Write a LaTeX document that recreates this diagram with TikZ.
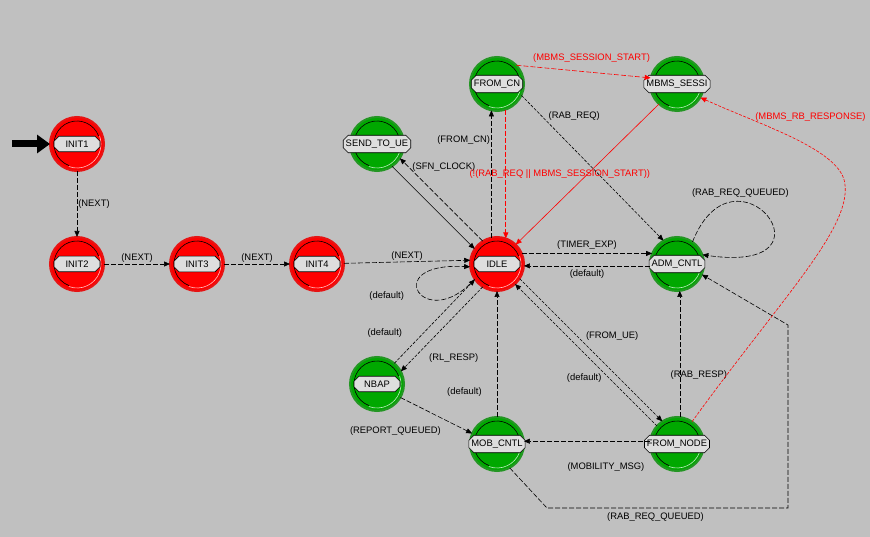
\documentclass[tikz,border=0pt]{standalone}
\usepackage{fontspec}
\setmainfont{Liberation Sans}
\usetikzlibrary{positioning, shapes.misc, arrows.meta}

\definecolor{bgray}{RGB}{192,192,192}
\definecolor{stred}{RGB}{255,0,0}
\definecolor{stredring}{RGB}{230,20,20}
\definecolor{stgreen}{RGB}{0,168,0}
\definecolor{stgreenring}{RGB}{36,150,36}
\definecolor{tagfill}{RGB}{222,222,222}
\definecolor{trred}{RGB}{255,0,0}

\begin{document}
\begin{tikzpicture}[x=1pt, y=-1pt, font=\fontsize{9.4}{10}\selectfont,
    >={Triangle[length=6pt, width=5pt]},
    st/.style={circle, on grid, minimum size=54pt, inner sep=0pt, outer sep=0pt, line width=2pt,
      path picture={
        \draw[black, line width=0.6pt] (path picture bounding box.center) ++(20:23pt) arc[start angle=20, end angle=250, radius=23pt];
        \draw[white, opacity=0.75, line width=0.6pt] (path picture bounding box.center) ++(250:24pt) arc[start angle=250, end angle=380, radius=24pt];
      }},
    tagbox/.style={chamfered rectangle, chamfered rectangle xsep=1.5pt, draw=black, fill=tagfill,
      line width=0.6pt, minimum width=46pt, minimum height=13pt, inner xsep=1pt, inner ysep=1pt},
    redst/.style={st, fill=stred, draw=stredring, label={[tagbox]center:#1}},
    greenst/.style={st, fill=stgreen, draw=stgreenring, label={[tagbox]center:#1}},
    cnd/.style={->, line width=0.6pt, dash pattern=on 5pt off 2pt},
    fine/.style={->, line width=0.6pt, dash pattern=on 3pt off 1.5pt},
    frc/.style={->, line width=0.6pt},
    lbl/.style={inner sep=1pt}]

    \path[use as bounding box, fill=bgray] (0,0) rectangle (870,537);

    % states
    \node[redst=INIT1] (init1) at (77,144) {};
    \node[redst=INIT2, below=120pt of init1] (init2) {};
    \node[redst=INIT3, right=120pt of init2] (init3) {};
    \node[redst=INIT4, right=120pt of init3] (init4) {};
    \node[redst=IDLE, right=180pt of init4] (idle) {};
    \node[greenst=FROM\_CN, above=180pt of idle] (fromcn) {};
    \node[greenst=SEND\_TO\_UE, above left=120pt and 120pt of idle] (sendue) {};
    \node[greenst=MBMS\_SESSI, right=180pt of fromcn] (mbms) {};
    \node[greenst=ADM\_CNTL, right=180pt of idle] (adm) {};
    \node[greenst=NBAP, below left=120pt and 120pt of idle] (nbap) {};
    \node[greenst=MOB\_CNTL, below=180pt of idle] (mobcntl) {};
    \node[greenst=FROM\_NODE, right=180pt of mobcntl] (fromnode) {};
    \coordinate[on grid, left=65pt of init1] (entry);

    % initial state marker
    \draw[line width=7pt, -{Triangle[length=13pt, width=18pt]}] (entry) -- (init1.west);

    % start-up chain
    \draw[cnd] (init1) -- node[lbl, right] {(NEXT)} (init2);
    \draw[cnd] (init2) -- node[lbl, above] {(NEXT)} (init3);
    \draw[cnd] (init3) -- node[lbl, above] {(NEXT)} (init4);
    \draw[cnd] (init4) -- node[lbl, above] {(NEXT)} (idle.172);
    \draw[cnd] (idle.214) .. controls (425,335) and (378,262) .. (idle.186)
        node[lbl, pos=0.5, anchor=east, xshift=-14pt, yshift=-4pt] {(default)};

    % idle transitions
    \draw[frc] (sendue.-56) -- (idle.146);
    \draw[cnd] (idle.122) -- node[lbl, pos=0.9, anchor=west, xshift=3pt] {(SFN\_CLOCK)} (sendue.-32);
    \draw[cnd] (idle.102) -- node[lbl, pos=0.77, left] {(FROM\_CN)} (fromcn.258);
    \draw[cnd, trred] (fromcn.289) -- node[lbl, pos=0.5, xshift=54pt] {(!(RAB\_REQ || MBMS\_SESSION\_START))} (idle.71);
    \draw[cnd, trred] (fromcn.44) -- node[lbl, above=8pt, xshift=8pt] {(MBMS\_SESSION\_START)} (mbms.167);
    \draw[frc, trred] (mbms.228) -- (idle.46);
    \draw[fine] (fromcn.-25) -- node[lbl, pos=0.14, anchor=west, xshift=6pt] {(RAB\_REQ)} (adm.120);
    \draw[cnd] (idle.23) -- node[lbl, above=3pt] {(TIMER\_EXP)} (adm.157);
    \draw[cnd] (adm.184) -- node[lbl, below=3pt] {(default)} (idle.-4);
    \draw[cnd] (adm.55) .. controls (735,135) and (845,275) .. (adm.20)
        node[lbl, pos=0.3, above=3pt] {(RAB\_REQ\_QUEUED)};

    % lower half
    \draw[cnd] (fromnode.84) -- node[lbl, pos=0.33, xshift=19pt] {(RAB\_RESP)} (adm.-84);
    \draw[fine, trred] (fromnode.56) .. controls (780,300) and (850,230) .. (845,185)
        .. controls (843,150) and (760,125) .. (mbms.-30)
        node[lbl, pos=0.4, above=24pt] {(MBMS\_RB\_RESPONSE)};
    \draw[cnd] (mobcntl.-62) -- (547,508) -- node[lbl, pos=0.45, below=3pt] {(RAB\_REQ\_QUEUED)} (788,508)
        -- (788,325) -- (adm.-23);
    \draw[cnd] (fromnode.174) -- node[lbl, pos=0.35, below=20pt] {(MOBILITY\_MSG)} (mobcntl.6);
    \draw[fine] (idle.-33) -- node[lbl, pos=0.4, anchor=west, xshift=8pt] {(FROM\_UE)} (fromnode.123);
    \draw[fine] (fromnode.138) -- node[lbl, pos=0.34, anchor=east, xshift=-6pt] {(default)} (idle.-48);
    \draw[cnd] (mobcntl.90) -- node[lbl, pos=0.2, anchor=east, xshift=-14pt] {(default)} (idle.-90);
    \draw[fine] (nbap.50) -- node[lbl, pos=0.36, anchor=east, xshift=-20pt] {(default)} (idle.215);
    \draw[fine] (idle.238) -- node[lbl, pos=0.84, anchor=west, xshift=14pt] {(RL\_RESP)} (nbap.28);
    \draw[cnd] (nbap.-30) -- node[lbl, pos=0, anchor=north, xshift=-5pt, yshift=-28pt] {(REPORT\_QUEUED)} (mobcntl.157);
\end{tikzpicture}
\end{document}
